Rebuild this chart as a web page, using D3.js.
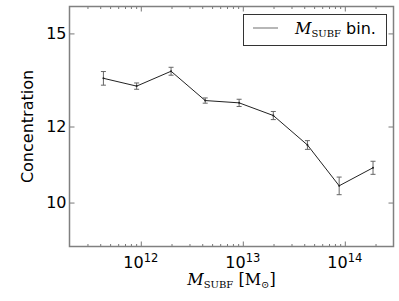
<!DOCTYPE html>
<html>
<head>
<meta charset="utf-8">
<script src="https://cdn.jsdelivr.net/npm/d3@7"></script>
<style>
  body { margin: 0; background: #fff; }
  text { font-family: "DejaVu Sans", sans-serif; fill: #000; }
</style>
</head>
<body>
<div id="chart"></div>
<script>
// halo mass bins (Msun) and concentration per bin
var masses = [4.3e11, 9.1e11, 1.98e12, 4.28e12, 9.2e12, 1.99e13, 4.3e13, 8.8e13, 1.89e14];
var conc = [13.47, 13.22, 13.70, 12.77, 12.70, 12.32, 11.48, 10.41, 10.87];
var concErr = [0.22, 0.10, 0.13, 0.08, 0.11, 0.12, 0.12, 0.22, 0.17];
var xMajor = [1e12, 1e13, 1e14];
var yTicks = [10, 12, 15];

var W = 399, H = 301;
var padL = 69.5, padR = 393.5, padT = 6.5, padB = 246.5;

var svg = d3.select("#chart").append("svg")
    .attr("width", W)
    .attr("height", H);

var x = d3.scaleLog().domain([2e11, 3e14]).range([padL, padR]);
var y = d3.scaleLog().domain([9, 16]).range([padB, padT]);

// minor ticks 2..9 x 10^k
var xMinor = [];
for (var k = 11; k <= 14; k++) {
    for (var m = 2; m <= 9; m++) {
        var v = m * Math.pow(10, k);
        if (v > 2e11 && v < 3e14) xMinor.push(v);
    }
}

function styleAxis(g) {
    g.select(".domain").remove();
    g.selectAll("line").attr("stroke", "#555").attr("stroke-width", 0.8);
}

// x ticks, bottom and top, pointing in
svg.append("g").attr("transform", "translate(0," + padB + ")")
    .call(d3.axisBottom(x).tickValues(xMinor).tickSize(-2.5).tickFormat(""))
    .call(styleAxis);
svg.append("g").attr("transform", "translate(0," + padB + ")")
    .call(d3.axisBottom(x).tickValues(xMajor).tickSize(-5).tickFormat(""))
    .call(styleAxis);
svg.append("g").attr("transform", "translate(0," + padT + ")")
    .call(d3.axisTop(x).tickValues(xMinor).tickSize(-2.5).tickFormat(""))
    .call(styleAxis);
svg.append("g").attr("transform", "translate(0," + padT + ")")
    .call(d3.axisTop(x).tickValues(xMajor).tickSize(-5).tickFormat(""))
    .call(styleAxis);

// y ticks left and right
svg.append("g").attr("transform", "translate(" + padL + ",0)")
    .call(d3.axisLeft(y).tickValues(yTicks).tickSize(-5).tickFormat(""))
    .call(styleAxis);
svg.append("g").attr("transform", "translate(" + padR + ",0)")
    .call(d3.axisRight(y).tickValues(yTicks).tickSize(-5).tickFormat(""))
    .call(styleAxis);

// frame
svg.append("rect")
    .attr("x", padL).attr("y", padT)
    .attr("width", padR - padL).attr("height", padB - padT)
    .attr("fill", "none")
    .attr("stroke", "#808080")
    .attr("stroke-width", 1.5);

// y tick labels
svg.selectAll(".ylab").data(yTicks).enter().append("text")
    .attr("class", "ylab")
    .attr("x", padL - 3)
    .attr("y", function(d) { return y(d); })
    .attr("dy", "0.36em")
    .attr("text-anchor", "end")
    .style("font-size", "16px")
    .text(function(d) { return d; });

// x tick labels 10^k
var xl = svg.selectAll(".xlab").data(xMajor).enter().append("text")
    .attr("class", "xlab")
    .attr("x", function(d) { return x(d); })
    .attr("y", 268)
    .attr("text-anchor", "middle")
    .style("font-size", "16px");
xl.append("tspan").text("10");
xl.append("tspan").attr("dy", -6).style("font-size", "11.5px")
    .text(function(d) { return Math.round(Math.log10(d)); });

// axis titles
svg.append("text")
    .attr("transform", "translate(33," + ((padT + padB) / 2) + ") rotate(-90)")
    .attr("text-anchor", "middle")
    .style("font-size", "16px")
    .text("Concentration");

var xt = svg.append("text")
    .attr("x", (padL + padR) / 2)
    .attr("y", 285)
    .attr("text-anchor", "middle")
    .style("font-family", "'DejaVu Serif', serif")
    .style("font-size", "16px");
xt.append("tspan").style("font-style", "italic").text("M");
xt.append("tspan").attr("dy", 3).style("font-size", "10px").text("SUBF");
xt.append("tspan").attr("dy", -3).text(" [M");
xt.append("tspan").attr("dy", 3).style("font-size", "10px").text("\u2299");
xt.append("tspan").attr("dy", -3).text("]");

// data line
var pts = masses.map(function(d, i) { return [d, conc[i], concErr[i]]; });
var line = d3.line()
    .x(function(d) { return x(d[0]); })
    .y(function(d) { return y(d[1]); });

// error bars
var eb = svg.append("g").attr("stroke", "#666").attr("stroke-width", 1);
eb.selectAll(".ev").data(pts).enter().append("line")
    .attr("x1", function(d) { return x(d[0]); })
    .attr("x2", function(d) { return x(d[0]); })
    .attr("y1", function(d) { return y(d[1] + d[2]); })
    .attr("y2", function(d) { return y(d[1] - d[2]); });
eb.selectAll(".cap1").data(pts).enter().append("line")
    .attr("x1", function(d) { return x(d[0]) - 2.5; })
    .attr("x2", function(d) { return x(d[0]) + 2.5; })
    .attr("y1", function(d) { return y(d[1] + d[2]); })
    .attr("y2", function(d) { return y(d[1] + d[2]); });
eb.selectAll(".cap2").data(pts).enter().append("line")
    .attr("x1", function(d) { return x(d[0]) - 2.5; })
    .attr("x2", function(d) { return x(d[0]) + 2.5; })
    .attr("y1", function(d) { return y(d[1] - d[2]); })
    .attr("y2", function(d) { return y(d[1] - d[2]); });

svg.append("path")
    .datum(pts)
    .attr("d", line)
    .attr("fill", "none")
    .attr("stroke", "#222")
    .attr("stroke-width", 1);

svg.selectAll(".dot").data(pts).enter().append("circle")
    .attr("cx", function(d) { return x(d[0]); })
    .attr("cy", function(d) { return y(d[1]); })
    .attr("r", 1)
    .attr("fill", "#222");

// legend
var lg = svg.append("g");
lg.append("rect")
    .attr("x", 243.5).attr("y", 14.5)
    .attr("width", 143).attr("height", 31)
    .attr("fill", "#fff")
    .attr("stroke", "#333")
    .attr("stroke-width", 1);
lg.append("line")
    .attr("x1", 253).attr("x2", 278)
    .attr("y1", 28).attr("y2", 28)
    .attr("stroke", "#888")
    .attr("stroke-width", 1.2);
var lt = lg.append("text")
    .attr("x", 295).attr("y", 34)
    .style("font-size", "16px");
lt.append("tspan").style("font-family", "'DejaVu Serif', serif").style("font-style", "italic").text("M");
lt.append("tspan").attr("dy", 3).style("font-family", "'DejaVu Serif', serif").style("font-size", "10px").text("SUBF");
lt.append("tspan").attr("dy", -3).text(" bin.");
</script>
</body>
</html>
